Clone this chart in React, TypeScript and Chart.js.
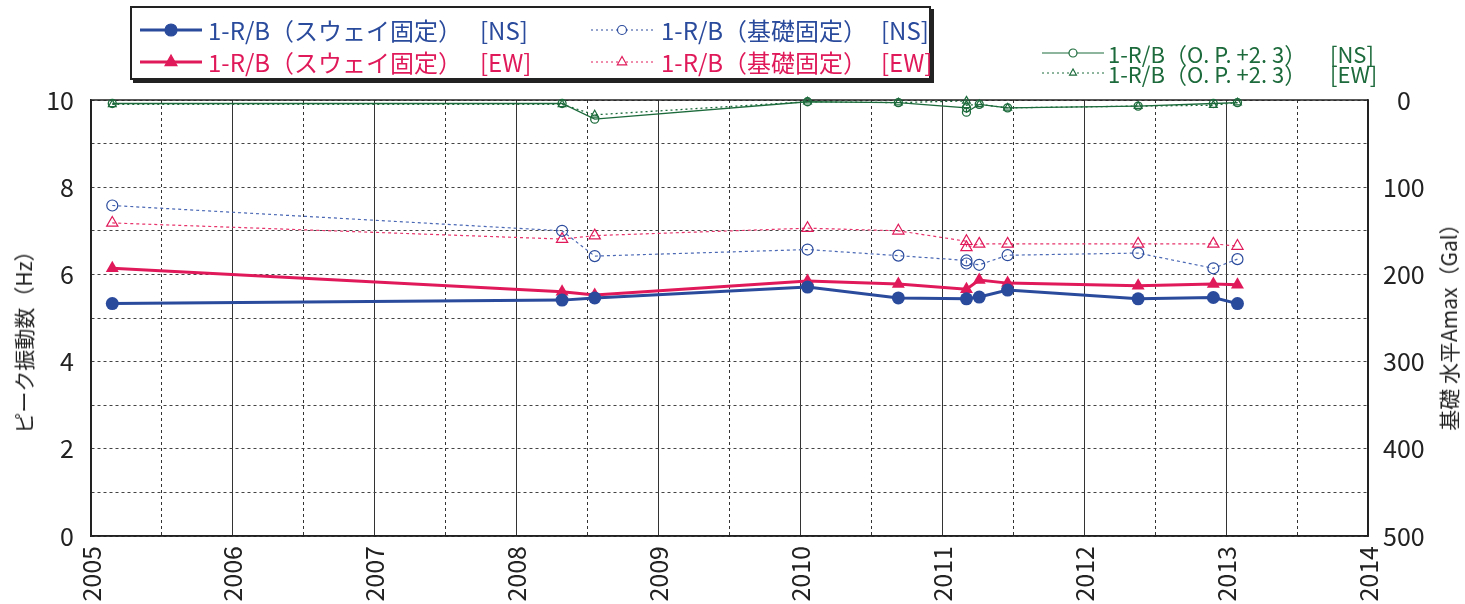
import React, { useEffect, useRef } from "react";
import { Chart, registerables } from "chart.js";

Chart.register(...registerables);

// ---- data ----
const swayDates = [2005.15, 2008.32, 2008.55, 2010.05, 2010.69, 2011.17, 2011.26, 2011.46, 2012.38, 2012.91, 2013.08];
const swayNS = [5.33, 5.41, 5.46, 5.71, 5.46, 5.44, 5.48, 5.64, 5.44, 5.47, 5.33];
const swayEW = [6.14, 5.6, 5.53, 5.85, 5.78, 5.66, 5.87, 5.8, 5.74, 5.78, 5.76];

const baseDates = [2005.15, 2008.32, 2008.55, 2010.05, 2010.69, 2011.17, 2011.17, 2011.26, 2011.46, 2012.38, 2012.91, 2013.08];
const baseNS = [7.58, 7.0, 6.42, 6.57, 6.43, 6.32, 6.25, 6.22, 6.44, 6.49, 6.14, 6.35];
const baseEW = [7.18, 6.81, 6.89, 7.06, 7.0, 6.76, 6.62, 6.7, 6.7, 6.7, 6.7, 6.65];

const amaxDates = [2005.15, 2008.32, 2008.55, 2010.05, 2010.69, 2011.17, 2011.17, 2011.26, 2011.46, 2012.38, 2012.91, 2013.08];
const amaxNS = [4, 4, 22, 2, 3, 9, 14, 5, 9, 7, 4, 3];
const amaxEW = [5, 5, 17, 2, 3, 1, 6, 5, 9, 7, 6, 3];

const xMin = 2005;
const xMax = 2014;
const yMin = 0;
const yMax = 10;
const y2Min = 0;
const y2Max = 500;

const legendMain = [
  "1-R/B（スウェイ固定）",
  "1-R/B（スウェイ固定）",
  "1-R/B（基礎固定）",
  "1-R/B（基礎固定）",
];
const legendOP = "1-R/B（O. P. +2. 3）";
const leftTitle = "ピーク振動数（Hz）";
const rightTitle = "基礎 水平Amax（Gal）";

const BLUE = "#2a4a9c";
const RED = "#e01a5a";
const GREEN = "#1d6b3c";
const TEXTFONT = '"Liberation Sans Narrow", "Noto Sans CJK JP", sans-serif';

const pts = (xs: number[], ys: number[]) => xs.map((x, i) => ({ x, y: ys[i] }));

const framePlugin = {
  id: "frame",
  beforeDatasetsDraw(chart: any) {
    const { ctx, chartArea } = chart;
    const { left, top, right, bottom } = chartArea;
    ctx.save();
    ctx.strokeStyle = "#222";
    ctx.lineWidth = 1.5;
    ctx.strokeRect(left, top, right - left, bottom - top);
    ctx.restore();
  },
};

function Sample({ color, dash, width, marker, filled, r }: any) {
  const w = 62;
  const h = 20;
  const cy = h / 2;
  const cx = w / 2;
  let m: any = null;
  if (marker === "circle") {
    m = <circle cx={cx} cy={cy} r={r} fill={filled ? color : "#fff"} stroke={color} strokeWidth={1.2} />;
  } else {
    const s = r * 1.7;
    const hh = r * 1.5;
    const p = `${cx},${cy - hh * 0.66} ${cx - s / 2},${cy + hh * 0.34} ${cx + s / 2},${cy + hh * 0.34}`;
    m = <polygon points={p} fill={filled ? color : "#fff"} stroke={color} strokeWidth={1.2} />;
  }
  return (
    <svg width={w} height={h} style={{ display: "block" }}>
      <line x1={0} y1={cy} x2={w} y2={cy} stroke={color} strokeWidth={width} strokeDasharray={dash || undefined} />
      {m}
    </svg>
  );
}

export default function App() {
  const canvasRef = useRef<HTMLCanvasElement | null>(null);

  useEffect(() => {
    const canvas = canvasRef.current;
    if (!canvas) return;
    const tickFont = { family: TEXTFONT, size: 25 };
    const chart = new Chart(canvas, {
      type: "line",
      data: {
        datasets: [
          {
            label: "sway NS",
            data: pts(swayDates, swayNS),
            yAxisID: "y",
            borderColor: BLUE,
            backgroundColor: BLUE,
            borderWidth: 3,
            pointStyle: "circle",
            pointRadius: 6.5,
            pointBorderWidth: 0,
            clip: false,
          },
          {
            label: "sway EW",
            data: pts(swayDates, swayEW),
            yAxisID: "y",
            borderColor: RED,
            backgroundColor: RED,
            borderWidth: 3,
            pointStyle: "triangle",
            pointRadius: 7.5,
            pointBorderWidth: 0,
            clip: false,
          },
          {
            label: "base NS",
            data: pts(baseDates, baseNS),
            yAxisID: "y",
            borderColor: "#4a68b4",
            backgroundColor: "rgba(255,255,255,0)",
            borderWidth: 1.2,
            borderDash: [3, 3],
            pointStyle: "circle",
            pointRadius: 5.5,
            pointBorderWidth: 1.2,
            pointBorderColor: BLUE,
            clip: false,
          },
          {
            label: "base EW",
            data: pts(baseDates, baseEW),
            yAxisID: "y",
            borderColor: "#e8346c",
            backgroundColor: "rgba(255,255,255,0)",
            borderWidth: 1.2,
            borderDash: [3, 3],
            pointStyle: "triangle",
            pointRadius: 6.5,
            pointBorderWidth: 1.2,
            pointBorderColor: RED,
            clip: false,
          },
          {
            label: "OP NS",
            data: pts(amaxDates, amaxNS),
            yAxisID: "y2",
            borderColor: GREEN,
            backgroundColor: "rgba(255,255,255,0)",
            borderWidth: 1.3,
            pointStyle: "circle",
            pointRadius: 4,
            pointBorderWidth: 1.3,
            pointBorderColor: GREEN,
            clip: false,
          },
          {
            label: "OP EW",
            data: pts(amaxDates, amaxEW),
            yAxisID: "y2",
            borderColor: GREEN,
            backgroundColor: "rgba(255,255,255,0)",
            borderWidth: 1.3,
            borderDash: [2, 3],
            pointStyle: "triangle",
            pointRadius: 4.5,
            pointBorderWidth: 1.2,
            pointBorderColor: GREEN,
            clip: false,
          },
        ],
      },
      options: {
        animation: false,
        responsive: false,
        layout: { padding: { top: 100, left: 0, right: 0, bottom: 0 } },
        plugins: { legend: { display: false }, tooltip: { enabled: false } },
        scales: {
          x: {
            type: "linear",
            min: xMin,
            max: xMax,
            afterFit: (s: any) => {
              s.height = 68;
            },
            ticks: {
              stepSize: 0.5,
              autoSkip: false,
              minRotation: 90,
              maxRotation: 90,
              padding: 10,
              color: "#222",
              font: tickFont,
              callback: (v: any) => (Number.isInteger(Number(v)) ? String(v) : ""),
            },
            grid: { color: "#333", lineWidth: 1, drawTicks: false },
            border: {
              color: "#222",
              width: 1.5,
              dash: (ctx: any) => (ctx.tick && !Number.isInteger(ctx.tick.value) ? [3, 3] : []),
            },
          },
          y: {
            type: "linear",
            position: "left",
            min: yMin,
            max: yMax,
            afterFit: (s: any) => {
              s.width = 91;
            },
            ticks: {
              stepSize: 1,
              padding: 17,
              color: "#222",
              font: tickFont,
              callback: (v: any) => (Number(v) % 2 === 0 ? String(v) : ""),
            },
            grid: { color: "#444", lineWidth: 1, drawTicks: false },
            border: { color: "#222", width: 1.5, dash: (ctx: any) => (ctx.tick ? [3, 3] : []) },
          },
          y2: {
            type: "linear",
            position: "right",
            min: y2Min,
            max: y2Max,
            reverse: true,
            afterFit: (s: any) => {
              s.width = 97;
            },
            ticks: {
              stepSize: 100,
              padding: 15,
              crossAlign: "center",
              color: "#222",
              font: tickFont,
            },
            grid: { display: false, drawTicks: false },
            border: { color: "#222", width: 1.5 },
          },
        },
      },
      plugins: [framePlugin],
    } as any);
    return () => chart.destroy();
  }, []);

  const txt = (left: number, top: number, color: string, s: string, size = 24) => (
    <div
      style={{
        position: "absolute",
        left,
        top,
        color,
        fontFamily: TEXTFONT,
        fontSize: size,
        lineHeight: "26px",
        whiteSpace: "nowrap",
      }}
    >
      {s}
    </div>
  );

  return (
    <div style={{ position: "absolute", left: 0, top: 0, width: 1465, height: 604, background: "#fff", overflow: "hidden" }}>
      <canvas ref={canvasRef} width={1465} height={604} style={{ position: "absolute", left: 0, top: 0 }} />
      {/* main legend box */}
      <div
        style={{
          position: "absolute",
          left: 130,
          top: 6,
          width: 797,
          height: 70,
          border: "2px solid #222",
          boxShadow: "3px 3px 0 #222",
          background: "#fff",
        }}
      />
      <div style={{ position: "absolute", left: 140, top: 20 }}>
        <Sample color={BLUE} width={3} marker="circle" filled r={6} />
      </div>
      {txt(208, 17, BLUE, legendMain[0])}
      {txt(480, 17, BLUE, "[NS]")}
      <div style={{ position: "absolute", left: 140, top: 52 }}>
        <Sample color={RED} width={3} marker="triangle" filled r={7} />
      </div>
      {txt(208, 49, RED, legendMain[1])}
      {txt(480, 49, RED, "[EW]")}
      <div style={{ position: "absolute", left: 591, top: 20 }}>
        <Sample color={BLUE} width={1} dash="2 3" marker="circle" r={4.5} />
      </div>
      {txt(661, 17, BLUE, legendMain[2])}
      {txt(881, 17, BLUE, "[NS]")}
      <div style={{ position: "absolute", left: 591, top: 52 }}>
        <Sample color={RED} width={1} dash="2 3" marker="triangle" r={5.5} />
      </div>
      {txt(661, 49, RED, legendMain[3])}
      {txt(881, 49, RED, "[EW]")}
      {/* OP legend */}
      <div style={{ position: "absolute", left: 1042, top: 43 }}>
        <Sample color={GREEN} width={1.2} marker="circle" r={4} />
      </div>
      {txt(1108, 40, GREEN, legendOP, 22)}
      {txt(1330, 40, GREEN, "[NS]", 22)}
      <div style={{ position: "absolute", left: 1042, top: 63 }}>
        <Sample color={GREEN} width={1} dash="2 3" marker="triangle" r={4} />
      </div>
      {txt(1108, 60, GREEN, legendOP, 22)}
      {txt(1330, 60, GREEN, "[EW]", 22)}
      {/* axis titles */}
      <div
        style={{
          position: "absolute",
          left: 23,
          top: 337,
          transform: "translate(-50%, -50%) rotate(-90deg)",
          fontFamily: TEXTFONT,
          fontSize: 21,
          color: "#222",
          whiteSpace: "nowrap",
        }}
      >
        {leftTitle}
      </div>
      <div
        style={{
          position: "absolute",
          left: 1448,
          top: 322,
          transform: "translate(-50%, -50%) rotate(-90deg)",
          fontFamily: TEXTFONT,
          fontSize: 21,
          color: "#222",
          whiteSpace: "nowrap",
        }}
      >
        {rightTitle}
      </div>
    </div>
  );
}
